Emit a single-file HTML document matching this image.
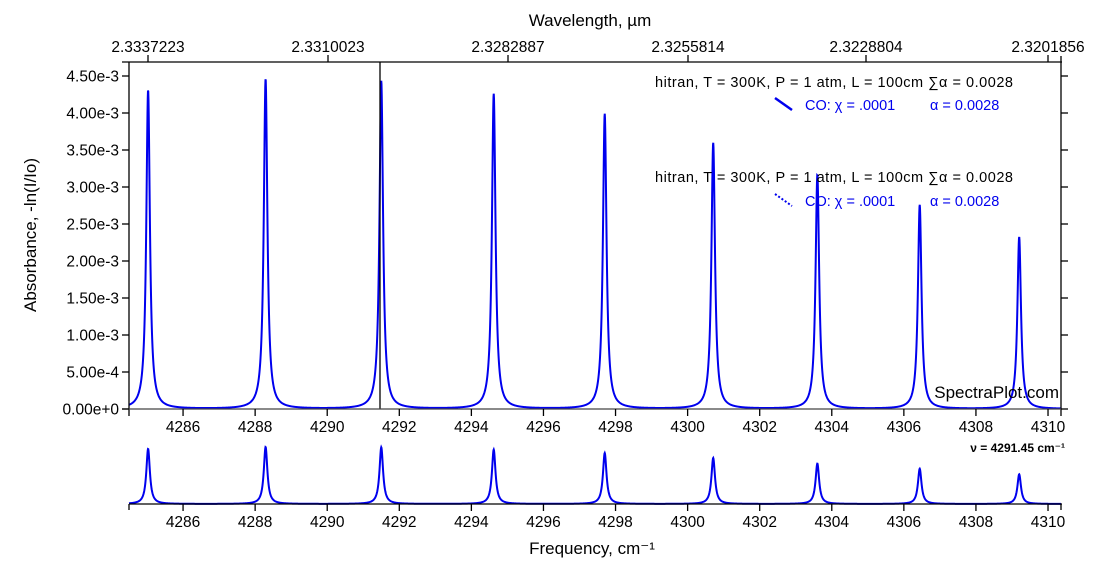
<!DOCTYPE html>
<html><head><meta charset="utf-8"><style>
body{margin:0;background:#fff;}
svg{display:block;font-family:"Liberation Sans","DejaVu Sans",sans-serif;}
</style></head><body>
<svg id="s" width="1100" height="563" viewBox="0 0 1100 563">
<rect width="1100" height="563" fill="#fff"/>
<g id="g"></g>
<text x="590" y="26" font-size="17" text-anchor="middle">Wavelength, µm</text>
<text x="592" y="554" font-size="17" text-anchor="middle">Frequency, cm⁻¹</text>
<text transform="translate(36,235) rotate(-90)" font-size="17" text-anchor="middle">Absorbance, -ln(I/Io)</text>
<text x="1059" y="398" font-size="17" text-anchor="end">SpectraPlot.com</text>
<text x="1065" y="452" font-size="12" font-weight="bold" text-anchor="end">ν = 4291.45 cm⁻¹</text>
<g font-size="14.5">
<text x="655" y="87" textLength="358">hitran, T = 300K, P = 1 atm, L = 100cm  ∑α = 0.0028</text>
<text x="805" y="110" fill="#0000ee">CO: χ = .0001</text>
<text x="930" y="110" fill="#0000ee">α = 0.0028</text>
<line x1="775" y1="98" x2="792" y2="110" stroke="#0000ee" stroke-width="2.5"/>
<text x="655" y="182" textLength="358">hitran, T = 300K, P = 1 atm, L = 100cm  ∑α = 0.0028</text>
<text x="805" y="206" fill="#0000ee">CO: χ = .0001</text>
<text x="930" y="206" fill="#0000ee">α = 0.0028</text>
<line x1="775" y1="194" x2="792" y2="206" stroke="#0000ee" stroke-width="2" stroke-dasharray="2,2"/>
</g>
</svg>
<script>
var g=document.getElementById('g'),NS='http://www.w3.org/2000/svg';
function el(t,a,txt){var e=document.createElementNS(NS,t);for(var k in a)e.setAttribute(k,a[k]);if(txt)e.textContent=txt;g.appendChild(e);return e;}
var X0=129,X1=1061,F0=4284.50,S=36.04;
function fx(f){return X0+(f-F0)*S;}
var peaks=[[4285.03,409-90],[4288.29,409-79],[4291.50,409-81],[4294.62,409-94],[4297.70,409-114],[4300.71,409-143],[4303.60,409-175],[4306.44,409-205],[4309.20,409-237]];
var gam=0.06;
function val(f){var s=0;for(var i=0;i<peaks.length;i++){var d=(f-peaks[i][0])/gam;s+=peaks[i][1]/(1+d*d);}return s;}
var d1='',d2='';
for(var px=X0;px<=X1;px+=0.25){var f=F0+(px-X0)/S;var v=val(f);
d1+=(px==X0?'M':'L')+px.toFixed(2)+','+(409-v).toFixed(2);
d2+=(px==X0?'M':'L')+px.toFixed(2)+','+(504-v*57/330).toFixed(2);}
el('path',{d:d1,fill:'none',stroke:'#0000ee','stroke-width':2});
el('path',{d:d2,fill:'none',stroke:'#0000ee','stroke-width':2});
el('line',{x1:380,y1:62,x2:380,y2:409,stroke:'#000','stroke-width':1.3});
el('line',{x1:122,y1:62,x2:1062,y2:62,stroke:'#000','stroke-width':1.3});
el('line',{x1:X0,y1:62,x2:X0,y2:416,stroke:'#000','stroke-width':1.3});
el('line',{x1:X1,y1:56,x2:X1,y2:416,stroke:'#000','stroke-width':1.3});
el('line',{x1:122,y1:409,x2:1062,y2:409,stroke:'#444','stroke-width':1.3});
el('line',{x1:X0,y1:504,x2:1062,y2:504,stroke:'#000','stroke-width':1.3});
el('line',{x1:X0,y1:504,x2:X0,y2:510,stroke:'#000','stroke-width':1.3});
el('line',{x1:X1,y1:504,x2:X1,y2:510,stroke:'#000','stroke-width':1.3});
for(var f=4286;f<=4310;f+=2){var x=fx(f);
el('line',{x1:x,y1:409,x2:x,y2:416,stroke:'#000','stroke-width':1.3});
el('text',{x:x,y:432,'font-size':15.5,'text-anchor':'middle'},f);
el('line',{x1:x,y1:504,x2:x,y2:511,stroke:'#000','stroke-width':1.3});
el('text',{x:x,y:527,'font-size':15.5,'text-anchor':'middle'},f);}
var yl=['0.00e+0','5.00e-4','1.00e-3','1.50e-3','2.00e-3','2.50e-3','3.00e-3','3.50e-3','4.00e-3','4.50e-3'];
for(var i=0;i<10;i++){var y=409-i*37;
el('line',{x1:122,y1:y,x2:X0,y2:y,stroke:'#000','stroke-width':1.3});
el('line',{x1:X1,y1:y,x2:X1+7,y2:y,stroke:'#000','stroke-width':1.3});
el('text',{x:119,y:y+5.5,'font-size':15.5,'text-anchor':'end'},yl[i]);}
var wl=[[148,'2.3337223'],[328,'2.3310023'],[508,'2.3282887'],[688,'2.3255814'],[866,'2.3228804'],[1048,'2.3201856']];
wl.forEach(function(w){el('line',{x1:w[0],y1:55,x2:w[0],y2:62,stroke:'#000','stroke-width':1.3});
el('text',{x:w[0],y:52,'font-size':15.5,'text-anchor':'middle'},w[1]);});
</script>
</body></html>
